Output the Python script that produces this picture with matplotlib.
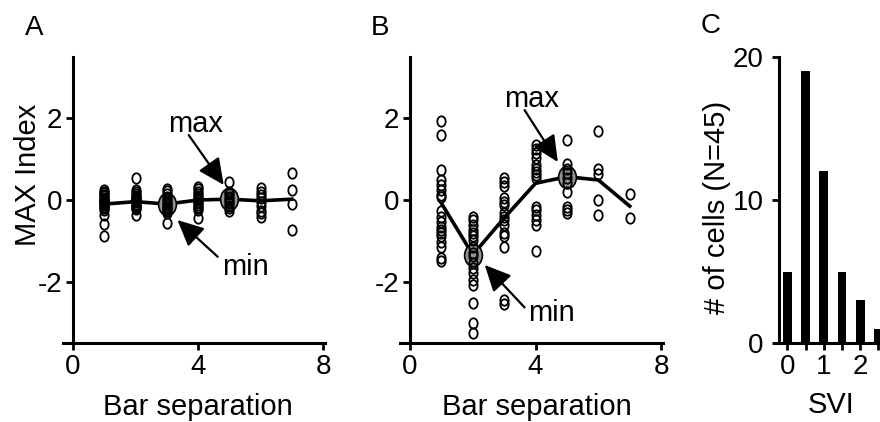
import numpy as np
import matplotlib.pyplot as plt
from matplotlib.path import Path

plt.rcParams['font.family'] = ['Liberation Sans', 'DejaVu Sans']

# panel A: MAX index per cell at each bar separation
sep = [1, 2, 3, 4, 5, 6, 7]
a_pts = [
    [0.24, 0.2, 0.16, 0.12, 0.09, 0.06, 0.03, 0.0, -0.02, -0.05, -0.08, -0.1,
     -0.13, -0.16, -0.2, -0.24, -0.37, -0.59, -0.89],
    [0.55, 0.24, 0.2, 0.15, 0.11, 0.08, 0.05, 0.02, 0.0, -0.03, -0.06, -0.09,
     -0.12, -0.15, -0.18, -0.2, -0.23, -0.37],
    [0.28, 0.22, 0.15, 0.08, 0.02, -0.04, -0.08, -0.12, -0.16, -0.2, -0.24,
     -0.28, -0.33, -0.57],
    [0.31, 0.26, 0.2, 0.14, 0.1, 0.05, 0.02, 0.0, -0.04, -0.08, -0.12, -0.16,
     -0.2, -0.24, -0.45],
    [0.45, 0.2, 0.14, 0.08, 0.03, -0.02, -0.08, -0.14, -0.2, -0.28],
    [0.29, 0.2, 0.12, 0.04, -0.05, -0.15, -0.26, -0.33, -0.41],
    [0.65, 0.24, -0.1, -0.73],
]
a_mean = [-0.1, -0.04, -0.1, 0.0, 0.02, -0.02, 0.02]

# panel B
b_pts = [
    [1.93, 1.6, 0.73, 0.49, 0.37, 0.24, 0.12, 0.08, -0.28, -0.41, -0.53, -0.65,
     -0.73, -0.81, -0.89, -1.02, -1.14, -1.42, -1.5],
    [-0.41, -0.49, -0.61, -0.73, -0.81, -0.89, -0.98, -1.14, -1.3, -1.38, -1.54,
     -1.67, -1.79, -1.95, -2.07, -2.52, -3.01, -3.25],
    [0.55, 0.45, 0.34, 0.04, -0.04, -0.12, -0.33, -0.41, -0.49, -0.61, -0.81,
     -0.89, -1.14, -2.44, -2.54],
    [1.34, 1.26, 1.14, 1.02, 0.85, 0.77, 0.69, 0.61, 0.53, -0.16, -0.24, -0.37,
     -0.49, -0.61, -1.26],
    [1.48, 0.89, 0.77, 0.65, 0.55, 0.41, 0.2, -0.16, -0.24, -0.33],
    [1.69, 0.75, 0.63, 0.0, -0.37],
    [0.14, -0.45],
]
b_mean = [-0.08, -1.34, -0.44, 0.41, 0.57, 0.49, -0.15]

# panel C: histogram of SVI
svi_bins = [0, 0.5, 1, 1.5, 2, 2.5]
svi_counts = [5, 19, 12, 5, 3, 1]

W, H = 880, 422
fig = plt.figure(figsize=(W / 100, H / 100), dpi=100)


def rect(x0, y0, x1, y1):
    # pixel box -> figure fraction
    return [x0 / W, 1 - y1 / H, (x1 - x0) / W, (y1 - y0) / H]


def ftext(px, py, s, **kw):
    fig.text(px / W, 1 - py / H, s, **kw)


circ = Path.unit_circle()
ellipse = Path(circ.vertices * [0.8, 1.0], circ.codes)


def style(ax, spine_x):
    for s in ['top', 'right']:
        ax.spines[s].set_visible(False)
    for s in ['left', 'bottom']:
        ax.spines[s].set_linewidth(2.2)
    ax.spines['left'].set_position(('data', spine_x))
    ax.tick_params(direction='out', length=5, width=2, labelsize=20, pad=3)


def scatter_panel(box, pts, means, mark_idx, arrows):
    ax = fig.add_axes(rect(*box))
    ax.plot(sep, means, color='k', lw=2.6, zorder=2)
    for i in mark_idx:
        ax.plot(sep[i], means[i], marker=ellipse, ms=16, mfc='#939393',
                mec='k', mew=1.2, zorder=3)
    for x, v in zip(sep, pts):
        ax.plot(np.full(len(v), x), v, ls='none', marker=ellipse, ms=7.5,
                mfc='none', mec='k', mew=1.3, zorder=4)
    for tip, tail in arrows:
        ax.annotate('', xy=tip, xytext=tail,
                    arrowprops=dict(arrowstyle='-|>,head_length=0.8,head_width=0.38',
                                    mutation_scale=20, lw=1.6, color='k',
                                    shrinkA=0, shrinkB=0))
    ax.set_xlim(-0.32, 8.06)
    ax.set_ylim(-3.5, 3.5)
    ax.set_xticks([0, 4, 8])
    ax.set_yticks([-2, 0, 2])
    ax.set_yticklabels(['-2', '0', '2'])
    style(ax, 0)
    return ax


axA = scatter_panel((63, 57, 325, 343), a_pts, a_mean, [2, 4],
                    [((4.82, 0.37), (3.7, 1.59)), ((3.34, -0.49), (4.63, -1.39))])
axA.text(3.92, 1.66, 'max', fontsize=21, ha='center', va='baseline')
axA.text(5.53, -1.83, 'min', fontsize=21, ha='center', va='baseline')

axB = scatter_panel((400, 57, 663, 343), b_pts, b_mean, [1, 4],
                    [((4.71, 0.93), (3.65, 2.2)), ((2.38, -1.59), (3.65, -2.63))])
axB.text(3.87, 2.27, 'max', fontsize=21, ha='center', va='baseline')
axB.text(4.51, -2.97, 'min', fontsize=21, ha='center', va='baseline')

# panel C runs off the right edge of the figure
axC = fig.add_axes(rect(774, 57, 774 + 3.37 * 36.4, 343))
axC.bar(svi_bins, svi_counts, width=0.24, color='k')
axC.set_xlim(-0.365, 3.0)
axC.set_ylim(0, 20)
axC.set_yticks([0, 10, 20])
axC.set_xticks(svi_bins)
axC.set_xticklabels(['0', '', '1', '', '2', ''])
style(axC, -0.23)
axC.tick_params(axis='y', pad=6)

ftext(28, 175, 'MAX Index', fontsize=21, rotation=90, ha='center', va='center')
ftext(198, 415, 'Bar separation', fontsize=21, ha='center', va='baseline')
ftext(537, 415, 'Bar separation', fontsize=21, ha='center', va='baseline')
ftext(717, 207, '# of cells (N=45)', fontsize=21, rotation=90, ha='center', va='center')
ftext(831, 413, 'SVI', fontsize=21, ha='center', va='baseline')

ftext(25, 35, 'A', fontsize=20, ha='left', va='baseline')
ftext(371, 35, 'B', fontsize=20, ha='left', va='baseline')
ftext(701, 33, 'C', fontsize=20, ha='left', va='baseline')

fig.savefig('out.png', dpi=100)
